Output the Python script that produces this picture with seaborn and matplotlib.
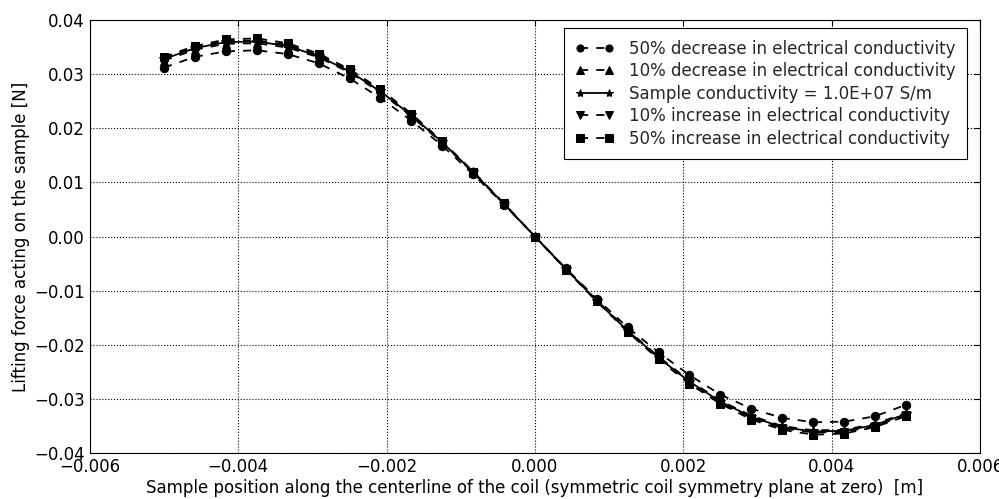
import numpy as np
import pandas as pd
import matplotlib
matplotlib.use('Agg')
import matplotlib.pyplot as plt
import seaborn as sns

# posicoes da amostra [m]
posicao = [-0.005, -0.004583, -0.004167, -0.00375, -0.003333, -0.002917, -0.0025,
           -0.002083, -0.001667, -0.00125, -0.000833, -0.000417, 0.0,
           0.000417, 0.000833, 0.00125, 0.001667, 0.002083, 0.0025,
           0.002917, 0.003333, 0.00375, 0.004167, 0.004583, 0.005]

dec_50 = [0.0312, 0.0332, 0.0342, 0.0344, 0.0337, 0.0320, 0.0292, 0.0256, 0.0214, 0.0168, 0.0115, 0.0059, 0.0,
          -0.0059, -0.0115, -0.0168, -0.0214, -0.0256, -0.0292, -0.0318, -0.0335, -0.0343, -0.0342, -0.0332, -0.0311]
dec_10 = [0.0325, 0.0345, 0.0356, 0.0357, 0.0349, 0.0331, 0.0303, 0.0266, 0.0222, 0.0173, 0.0118, 0.0060, 0.0,
          -0.0060, -0.0118, -0.0173, -0.0222, -0.0266, -0.0303, -0.0331, -0.0350, -0.0358, -0.0357, -0.0346, -0.0326]
nominal = [0.0328, 0.0348, 0.0359, 0.0360, 0.0352, 0.0333, 0.0305, 0.0268, 0.0224, 0.0174, 0.0119, 0.0060, 0.0,
           -0.0060, -0.0119, -0.0174, -0.0224, -0.0268, -0.0305, -0.0333, -0.0352, -0.0360, -0.0359, -0.0348, -0.0328]
inc_10 = [0.0330, 0.0350, 0.0361, 0.0362, 0.0354, 0.0335, 0.0307, 0.0270, 0.0225, 0.0175, 0.0119, 0.0060, 0.0,
          -0.0060, -0.0119, -0.0175, -0.0225, -0.0270, -0.0307, -0.0335, -0.0354, -0.0362, -0.0361, -0.0350, -0.0330]
inc_50 = [0.0332, 0.0352, 0.0364, 0.0366, 0.0357, 0.0338, 0.0309, 0.0272, 0.0227, 0.0176, 0.0120, 0.0061, 0.0,
          -0.0061, -0.0120, -0.0176, -0.0227, -0.0272, -0.0309, -0.0338, -0.0357, -0.0366, -0.0364, -0.0352, -0.0332]

rotulos = ['50% decrease in electrical conductivity',
           '10% decrease in electrical conductivity',
           'Sample conductivity = 1.0E+07 S/m',
           '10% increase in electrical conductivity',
           '50% increase in electrical conductivity']
series = [dec_50, dec_10, nominal, inc_10, inc_50]
marcadores = ['o', '^', '*', 'v', 's']
estilos = [(0, (4.5, 4.5)), (0, (4.5, 4.5)), '-', (0, (4.5, 4.5)), (0, (4.5, 4.5))]

xticks = [-0.006, -0.004, -0.002, 0.0, 0.002, 0.004, 0.006]
yticks = [-0.04, -0.03, -0.02, -0.01, 0.0, 0.01, 0.02, 0.03, 0.04]

sns.set_style('white')
plt.rcParams['font.family'] = ['DejaVu Sans']

fig, ax = plt.subplots(figsize=(9.99, 4.99), dpi=100)

for valores, rot, m, ls in zip(series, rotulos, marcadores, estilos):
    df = pd.DataFrame({'x': posicao, 'y': valores})
    sns.lineplot(data=df, x='x', y='y', ax=ax, color='black', linestyle=ls, linewidth=1.3,
                 marker=m, markersize=7 if m == '*' else 6, markeredgecolor='black',
                 label=rot, sort=False)

ax.set_xlim(-0.006, 0.006)
ax.set_ylim(-0.04, 0.04)
ax.set_xticks(xticks)
ax.set_yticks(yticks)
ax.set_xticklabels([('%.3f' % v).replace('-', '\u2212') for v in xticks])
ax.set_yticklabels([('%.2f' % v).replace('-', '\u2212') for v in yticks])
ax.tick_params(axis='both', which='both', direction='in', top=True, right=True, length=4,
               width=0.8, color='black', labelsize=12, labelcolor='black')
ax.grid(True, color='black', linestyle=':', linewidth=0.8)
for s in ax.spines.values():
    s.set_color('black')
    s.set_linewidth(0.8)

ax.set_xlabel('Sample position along the centerline of the coil (symmetric coil symmetry plane at zero)  [m]',
              fontsize=12, color='black', labelpad=2)
ax.set_ylabel('Lifting force acting on the sample [N]', fontsize=12, color='black', labelpad=3)

leg = ax.legend(loc='upper right', bbox_to_anchor=(0.9854, 0.9815), borderaxespad=0,
                fontsize=12, numpoints=2, handlelength=2.3, handletextpad=0.9,
                borderpad=0.7, labelspacing=0.27, fancybox=False, frameon=True, markerscale=0.85)
leg.get_frame().set_edgecolor('black')
leg.get_frame().set_linewidth(0.8)
leg.get_frame().set_alpha(1)

fig.subplots_adjust(left=0.09, right=0.981, top=0.96, bottom=0.092)
fig.savefig('out.png', dpi=100)
